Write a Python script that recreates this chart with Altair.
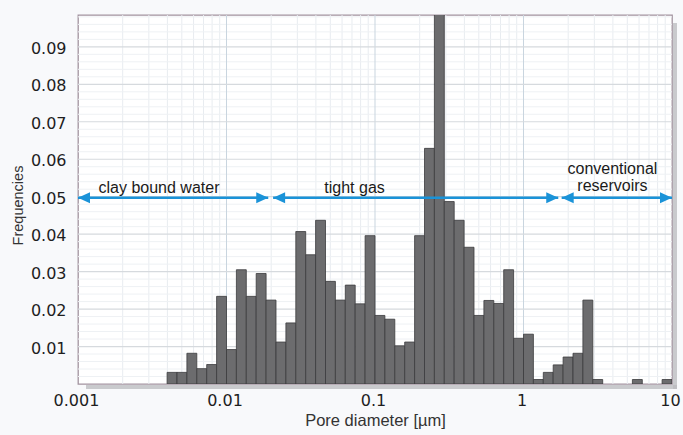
import altair as alt
import pandas as pd

# ---- data ----
# histogram bins: 15 log-spaced bins per decade, bin k spans 10^(-3+k/15) .. 10^(-3+(k+1)/15)
BIN_INDEX = list(range(9, 60))
FREQ = [0.0031, 0.0031, 0.0082, 0.0041, 0.0052, 0.0234, 0.0092, 0.0305, 0.0234, 0.0295,
        0.0224, 0.0112, 0.0163, 0.0407, 0.0345, 0.0437, 0.0274, 0.0224, 0.0264, 0.0214,
        0.0396, 0.0183, 0.0173, 0.0102, 0.0112, 0.0396, 0.0629, 0.1050, 0.0487, 0.0437,
        0.0365, 0.0183, 0.0223, 0.0215, 0.0305, 0.0122, 0.0133, 0.0012, 0.0031, 0.0051,
        0.0072, 0.0082, 0.0224, 0.0012, 0.0, 0.0, 0.0, 0.0012, 0.0, 0.0, 0.0012]

X_TICKS = [0.001, 0.01, 0.1, 1, 10]
Y_TICKS = [0.01, 0.02, 0.03, 0.04, 0.05, 0.06, 0.07, 0.08, 0.09]
X_DOMAIN = [0.001, 10]
Y_DOMAIN = [0, 0.0985]

# minor grid
X_MINOR = [m * d for d in [0.001, 0.01, 0.1, 1] for m in range(2, 10)]
X_MAJOR = [0.01, 0.1, 1]
Y_MINOR = [round(0.002 * i, 3) for i in range(1, 50) if i % 5 != 0]
Y_MAJOR = Y_TICKS

# range arrows (at frequency 0.05)
ARROW_Y = 0.0497
ARROW_START = [0.001, 0.0206, 1.807]
ARROW_END = [0.0191, 1.714, 10]

LABELS = ["clay bound water", "tight gas", "conventional", "reservoirs"]
LABEL_X = [0.00351, 0.0728, 3.97, 3.97]
LABEL_Y = [0.0511, 0.0511, 0.0561, 0.0514]

# ---- tables ----
bars = pd.DataFrame({
    "lo": [10 ** (-3 + k / 15) for k in BIN_INDEX],
    "hi": [10 ** (-3 + (k + 1) / 15) for k in BIN_INDEX],
    "freq": FREQ,
})
bars = bars[bars["freq"] > 0]

xs = alt.Scale(type="log", domain=X_DOMAIN, nice=False)
ys = alt.Scale(domain=Y_DOMAIN, nice=False, zero=True)

X_AXIS = alt.Axis(values=X_TICKS, format="~g", grid=False, ticks=False, tickSize=0,
                  domain=False, labelFont="DejaVu Sans", labelFontSize=16,
                  labelColor="#1e1e1e", labelPadding=8, labelFlush=False,
                  labelOverlap=False, labelOffset=-2,
                  title="Pore diameter [µm]", titleFont="Liberation Sans",
                  titleFontSize=16.5, titleFontWeight="normal", titleColor="#333333",
                  titleX=297, titleY=41, titleBaseline="alphabetic")
Y_AXIS = alt.Axis(values=Y_TICKS, format=".2f", grid=False, ticks=False, tickSize=0,
                  domain=False, labelFont="DejaVu Sans", labelFontSize=16,
                  labelColor="#1e1e1e", labelPadding=12, labelOffset=1.5,
                  title="Frequencies", titleFont="Liberation Sans",
                  titleFontSize=14.5, titleFontWeight="normal", titleColor="#333333",
                  titleAngle=270, titleX=-60, titleY=190, titleAlign="center",
                  titleBaseline="middle")


def X(field):
    return alt.X(field, scale=xs, axis=X_AXIS)


def Y(field):
    return alt.Y(field, scale=ys, axis=Y_AXIS)


BLUE = "#1b93d8"


def vrules(vals, color, width=1):
    return alt.Chart(pd.DataFrame({"x": vals})).mark_rule(color=color, strokeWidth=width).encode(
        x=X("x:Q"))


def hrules(vals, color, width=1):
    return alt.Chart(pd.DataFrame({"y": vals})).mark_rule(color=color, strokeWidth=width).encode(
        y=Y("y:Q"))


# drop shadow of the frame (right and bottom)
shadow_r = alt.Chart(pd.DataFrame({"x": [10], "y": [Y_DOMAIN[1]], "y0": [0]})).mark_rect(
    color="#b9b9bd", opacity=0.75, clip=False, xOffset=1, x2Offset=5, yOffset=8, y2Offset=5
).encode(x=X("x:Q"), x2="x:Q", y=Y("y:Q"), y2="y0:Q")
shadow_b = alt.Chart(pd.DataFrame({"x": [0.001], "x1": [10], "y": [0]})).mark_rect(
    color="#b9b9bd", opacity=0.75, clip=False, xOffset=8, x2Offset=5, yOffset=1, y2Offset=5
).encode(x=X("x:Q"), x2="x1:Q", y=Y("y:Q"), y2="y:Q")

grid = [
    vrules(X_MINOR, "#e8ecf0"),
    hrules(Y_MINOR, "#eef1f4"),
    vrules(X_MAJOR, "#c9d5df"),
    hrules(Y_MAJOR, "#d6dade", 1.2),
]

bar_layer = alt.Chart(bars).mark_rect(
    color="#6c6c6e", stroke="#3b3b3e", strokeWidth=0.8, clip=True
).encode(
    x=X("lo:Q"),
    x2="hi:Q",
    y=Y("freq:Q"),
    y2=alt.datum(0),
)

arrows = pd.DataFrame({"x0": ARROW_START, "x1": ARROW_END, "y": [ARROW_Y] * 3})
arrow_lines = alt.Chart(arrows).mark_rule(color=BLUE, strokeWidth=2.6).encode(
    x=X("x0:Q"), x2="x1:Q", y=Y("y:Q"))

head_r = alt.Chart(pd.DataFrame({"x": ARROW_END, "y": [ARROW_Y] * 3})).mark_point(
    shape="M0,0L-1,-0.46L-1,0.46Z", filled=True, size=576, color=BLUE, opacity=1,
    strokeWidth=0, clip=False
).encode(x=X("x:Q"), y=Y("y:Q"))

head_l = alt.Chart(pd.DataFrame({"x": ARROW_START, "y": [ARROW_Y] * 3})).mark_point(
    shape="M0,0L1,-0.46L1,0.46Z", filled=True, size=576, color=BLUE, opacity=1,
    strokeWidth=0, clip=False
).encode(x=X("x:Q"), y=Y("y:Q"))

texts = alt.Chart(pd.DataFrame({"t": LABELS, "x": LABEL_X, "y": LABEL_Y})).mark_text(
    font="Liberation Sans", fontSize=16, color="#1a1a1a", align="center",
    baseline="alphabetic"
).encode(x=X("x:Q"), y=Y("y:Q"), text="t:N")

chart = alt.layer(
    shadow_r, shadow_b, *grid, bar_layer, arrow_lines, head_r, head_l, texts
).properties(
    width=594, height=369,
    autosize="none",
    padding={"left": 78, "top": 15, "right": 11, "bottom": 51},
    background="#f8f9fb",
).configure_view(
    fill="white", stroke="#a2939f", strokeWidth=1.3
)

chart.save("out.html", embed_options={"renderer": "svg", "actions": False})
